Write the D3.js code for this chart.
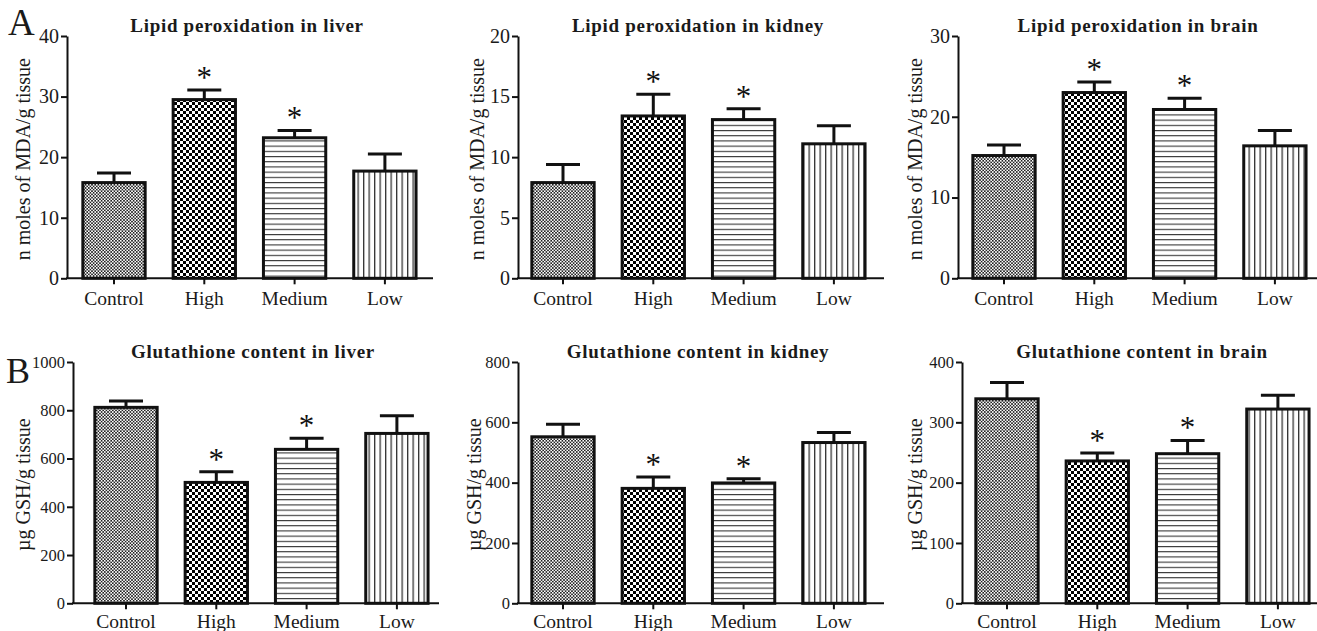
<!DOCTYPE html>
<html>
<head>
<meta charset="utf-8">
<script src="https://cdn.jsdelivr.net/npm/d3@7"></script>
<style>
  body{margin:0;background:#fff;}
  svg{display:block;font-family:"Liberation Serif","Times New Roman",serif;}
</style>
</head>
<body>
<div id="chart"></div>
<script>
// datos (media y error estandar)
const categories = ["Control", "High", "Medium", "Low"];
const significant = [false, true, true, false];

const mdaLiver = [15.8, 29.5, 23.2, 17.7];
const mdaLiverSem = [1.6, 1.6, 1.2, 2.8];
const mdaKidney = [7.9, 13.4, 13.1, 11.1];
const mdaKidneySem = [1.5, 1.8, 0.9, 1.5];
const mdaBrain = [15.2, 23.0, 20.9, 16.4];
const mdaBrainSem = [1.3, 1.3, 1.4, 1.9];

const gshLiver = [812, 501, 638, 704];
const gshLiverSem = [26, 44, 46, 73];
const gshKidney = [552, 381, 399, 533];
const gshKidneySem = [42, 38, 14, 33];
const gshBrain = [339, 236, 248, 322];
const gshBrainSem = [27, 13, 22, 23];

const mdaLiverTicks = [0, 10, 20, 30, 40];
const mdaKidneyTicks = [0, 5, 10, 15, 20];
const mdaBrainTicks = [0, 10, 20, 30];
const gshLiverTicks = [0, 200, 400, 600, 800, 1000];
const gshKidneyTicks = [0, 200, 400, 600, 800];
const gshBrainTicks = [0, 100, 200, 300, 400];

const mdaLabel = "n moles of MDA/g tissue";
const gshLabel = "\u00b5g GSH/g tissue";

// layout de cada panel
const topRow = {y0: 278.3, y1: 36, tickFont: 20, labelPad: 7};
const botRow = {y0: 603.3, y1: 362, tickFont: 16.5, labelPad: 5};

const panels = [
  {row: topRow, x0: 67,  off: 47, title: "Lipid peroxidation in liver",  ylabel: mdaLabel, means: mdaLiver,  sem: mdaLiverSem,  ticks: mdaLiverTicks,  labDx: -44},
  {row: topRow, x0: 518, off: 45, title: "Lipid peroxidation in kidney", ylabel: mdaLabel, means: mdaKidney, sem: mdaKidneySem, ticks: mdaKidneyTicks, labDx: -41},
  {row: topRow, x0: 958, off: 46, title: "Lipid peroxidation in brain",  ylabel: mdaLabel, means: mdaBrain,  sem: mdaBrainSem,  ticks: mdaBrainTicks,  labDx: -43},
  {row: botRow, x0: 73,  off: 53, title: "Glutathione content in liver",  ylabel: gshLabel, means: gshLiver,  sem: gshLiverSem,  ticks: gshLiverTicks,  labDx: -50},
  {row: botRow, x0: 518, off: 45, title: "Glutathione content in kidney", ylabel: gshLabel, means: gshKidney, sem: gshKidneySem, ticks: gshKidneyTicks, labDx: -44},
  {row: botRow, x0: 962, off: 45, title: "Glutathione content in brain",  ylabel: gshLabel, means: gshBrain,  sem: gshBrainSem,  ticks: gshBrainTicks,  labDx: -47}
];

const W = 1317, H = 631;
const svg = d3.select("#chart").append("svg").attr("width", W).attr("height", H);

// ---- patrones de relleno ----
const defs = svg.append("defs");
function checker(id, s, color){
  const p = defs.append("pattern").attr("id", id).attr("patternUnits", "userSpaceOnUse")
    .attr("width", 2 * s).attr("height", 2 * s);
  p.append("rect").attr("width", 2 * s).attr("height", 2 * s).attr("fill", "#fff");
  p.append("rect").attr("width", s).attr("height", s).attr("fill", color);
  p.append("rect").attr("x", s).attr("y", s).attr("width", s).attr("height", s).attr("fill", color);
}
checker("pat-0", 1.6, "#222");
checker("pat-1", 3, "#000");
const ph = defs.append("pattern").attr("id", "pat-2").attr("patternUnits", "userSpaceOnUse")
  .attr("width", 10).attr("height", 5.2);
ph.append("rect").attr("width", 10).attr("height", 5.2).attr("fill", "#fff");
ph.append("rect").attr("width", 10).attr("height", 1.1).attr("fill", "#333");
const pv = defs.append("pattern").attr("id", "pat-3").attr("patternUnits", "userSpaceOnUse")
  .attr("width", 5.5).attr("height", 10);
pv.append("rect").attr("width", 5.5).attr("height", 10).attr("fill", "#fff");
pv.append("rect").attr("width", 1.3).attr("height", 10).attr("fill", "#333");

function drawPanel(p){
  const step = 90.3;
  const y = d3.scaleLinear().domain([0, d3.max(p.ticks)]).range([p.row.y0, p.row.y1]);
  const x = d3.scaleBand().domain(categories)
    .range([p.x0 + p.off - step / 2, p.x0 + p.off + 3.5 * step])
    .paddingInner(0.31).paddingOuter(0.155);

  const rows = categories.map((c, i) => ({cat: c, mean: p.means[i], top: p.means[i] + p.sem[i], star: significant[i], pat: i}));
  const cx = d => x(d.cat) + x.bandwidth() / 2;

  const g = svg.append("g");

  // barras de error (solo hacia arriba)
  const eb = g.selectAll("g.err").data(rows).join("g").attr("class", "err")
    .attr("stroke", "#111").attr("stroke-width", 3);
  eb.append("line")
    .attr("x1", cx).attr("x2", cx)
    .attr("y1", d => y(d.mean)).attr("y2", d => y(d.top));
  eb.append("line")
    .attr("x1", d => cx(d) - 17).attr("x2", d => cx(d) + 17)
    .attr("y1", d => y(d.top)).attr("y2", d => y(d.top));

  // barras
  g.selectAll("rect.bar").data(rows).join("rect").attr("class", "bar")
    .attr("x", d => x(d.cat))
    .attr("width", x.bandwidth())
    .attr("y", d => y(d.mean))
    .attr("height", d => y(0) - y(d.mean))
    .attr("fill", d => `url(#pat-${d.pat})`)
    .attr("stroke", "#111").attr("stroke-width", 3);

  // asteriscos
  g.selectAll("text.star").data(rows.filter(d => d.star)).join("text").attr("class", "star")
    .attr("x", cx)
    .attr("y", d => y(d.top) - 2)
    .attr("text-anchor", "middle").attr("font-size", 31).attr("fill", "#111")
    .text("*");

  // eje y
  const ya = g.append("g").attr("transform", `translate(${p.x0},0)`)
    .call(d3.axisLeft(y).tickValues(p.ticks).tickFormat(d3.format("d"))
      .tickSize(6).tickSizeOuter(0).tickPadding(2))
    .attr("font-family", null).attr("font-size", p.row.tickFont);
  ya.select(".domain").attr("stroke", "#111").attr("stroke-width", 2);
  ya.selectAll(".tick line").attr("stroke", "#111").attr("stroke-width", 2);
  ya.selectAll(".tick text").attr("fill", "#1a1a1a");

  // eje x
  const xa = g.append("g").attr("transform", `translate(0,${p.row.y0})`)
    .call(d3.axisBottom(x).tickSize(6).tickSizeOuter(0).tickPadding(p.row.labelPad))
    .attr("font-family", null).attr("font-size", 19.5);
  xa.select(".domain").remove();
  xa.selectAll(".tick line").attr("stroke", "#111").attr("stroke-width", 2);
  xa.selectAll(".tick text").attr("fill", "#1a1a1a");
  g.append("line")
    .attr("x1", p.x0 - 1).attr("x2", p.x0 + 366)
    .attr("y1", p.row.y0).attr("y2", p.row.y0)
    .attr("stroke", "#111").attr("stroke-width", 2);

  // titulo
  g.append("text")
    .attr("x", p.x0 + 180).attr("y", p.row.y1 - 4)
    .attr("text-anchor", "middle").attr("font-size", 19).attr("font-weight", "bold")
    .style("letter-spacing", "0.7px").attr("fill", "#1a1a1a")
    .text(p.title);

  // etiqueta eje y
  const my = (p.row.y0 + p.row.y1) / 2 + 2;
  g.append("text")
    .attr("transform", `translate(${p.x0 + p.labDx},${my}) rotate(-90)`)
    .attr("text-anchor", "middle").attr("dy", "0.35em")
    .attr("font-size", 20).attr("fill", "#1a1a1a")
    .text(p.ylabel);
}

panels.forEach(drawPanel);

// letras de panel
svg.append("text").attr("x", 8).attr("y", 35).attr("font-size", 37).attr("fill", "#1a1a1a").text("A");
svg.append("text").attr("x", 6).attr("y", 383).attr("font-size", 36).attr("fill", "#1a1a1a").text("B");
</script>
</body>
</html>
